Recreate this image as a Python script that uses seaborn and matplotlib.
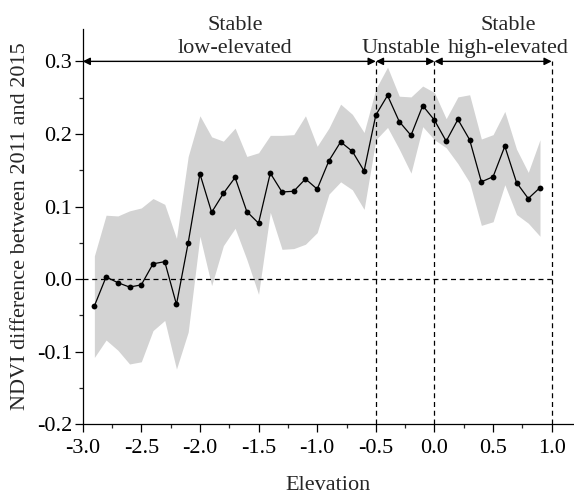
import matplotlib
matplotlib.use("Agg")
import matplotlib.pyplot as plt
import pandas as pd
import seaborn as sns
from matplotlib.ticker import MultipleLocator, FormatStrFormatter

# Elevation bins (standardised elevation) and NDVI change statistics per bin
elevation = [-2.9, -2.8, -2.7, -2.6, -2.5, -2.4, -2.3, -2.2, -2.1, -2.0,
             -1.9, -1.8, -1.7, -1.6, -1.5, -1.4, -1.3, -1.2, -1.1, -1.0,
             -0.9, -0.8, -0.7, -0.6, -0.5, -0.4, -0.3, -0.2, -0.1, 0.0,
             0.1, 0.2, 0.3, 0.4, 0.5, 0.6, 0.7, 0.8, 0.9]

ndvi_mean = [-0.037, 0.003, -0.005, -0.011, -0.008, 0.021, 0.024, -0.035, 0.050, 0.145,
             0.092, 0.118, 0.140, 0.093, 0.077, 0.146, 0.120, 0.121, 0.138, 0.124,
             0.163, 0.189, 0.176, 0.149, 0.226, 0.253, 0.217, 0.198, 0.239, 0.219,
             0.190, 0.220, 0.192, 0.134, 0.141, 0.183, 0.133, 0.111, 0.126]

ndvi_upper = [0.032, 0.088, 0.087, 0.094, 0.098, 0.111, 0.103, 0.056, 0.169, 0.225,
              0.196, 0.190, 0.208, 0.169, 0.174, 0.198, 0.198, 0.199, 0.225, 0.183,
              0.208, 0.241, 0.227, 0.202, 0.262, 0.292, 0.252, 0.251, 0.266, 0.257,
              0.221, 0.251, 0.254, 0.193, 0.199, 0.231, 0.179, 0.147, 0.192]

ndvi_lower = [-0.108, -0.084, -0.098, -0.117, -0.114, -0.071, -0.057, -0.124, -0.073, 0.059,
              -0.009, 0.046, 0.070, 0.027, -0.021, 0.092, 0.041, 0.042, 0.048, 0.064,
              0.117, 0.134, 0.123, 0.096, 0.192, 0.209, 0.179, 0.146, 0.210, 0.192,
              0.181, 0.159, 0.133, 0.074, 0.079, 0.130, 0.089, 0.077, 0.059]

# Zone boundaries and labels
zone_edges = [-3.0, -0.5, 0.0, 1.0]
zone_labels = ["Stable\nlow-elevated", "Unstable", "Stable\nhigh-elevated"]
zone_label_x = [-1.70, -0.285, 0.63]
arrow_level = 0.3

df = pd.DataFrame({"Elevation": elevation, "NDVI": ndvi_mean,
                   "upper": ndvi_upper, "lower": ndvi_lower})

sns.set_style("ticks")
plt.rcParams["font.family"] = ["Liberation Serif", "DejaVu Serif"]
plt.rcParams["axes.unicode_minus"] = False
plt.rcParams["font.size"] = 16

fig = plt.figure(figsize=(5.74, 4.95), dpi=100)
ax = fig.add_axes([0.144, 0.143, 0.856, 0.799])

ax.fill_between(df["Elevation"], df["lower"], df["upper"],
                color="#d3d3d3", linewidth=0, zorder=1)
sns.lineplot(data=df, x="Elevation", y="NDVI", ax=ax, color="black",
             linewidth=0.9, marker="o", markersize=4.2, markeredgewidth=0,
             zorder=3)

dash = (0, (4, 3))
ax.plot([zone_edges[0], zone_edges[-1]], [0, 0], color="black",
        linewidth=0.9, linestyle=dash, zorder=2)
for xe in zone_edges[1:]:
    ax.plot([xe, xe], [-0.2, arrow_level], color="black",
            linewidth=0.9, linestyle=dash, zorder=2)

for x0, x1 in zip(zone_edges[:-1], zone_edges[1:]):
    ax.annotate("", xy=(x1, arrow_level), xytext=(x0, arrow_level),
                arrowprops=dict(arrowstyle="<|-|>", color="black", lw=1.0,
                                shrinkA=0, shrinkB=0, mutation_scale=11),
                zorder=4)

for label, lx in zip(zone_labels, zone_label_x):
    ax.text(lx, 0.304, label, ha="center", va="bottom", fontsize=16,
            linespacing=1.3)

ax.set_xlim(-3.0, 1.19)
ax.set_ylim(-0.2, 0.345)
ax.xaxis.set_major_locator(MultipleLocator(0.5))
ax.xaxis.set_minor_locator(MultipleLocator(0.25))
ax.yaxis.set_major_locator(MultipleLocator(0.1))
ax.yaxis.set_minor_locator(MultipleLocator(0.05))
ax.xaxis.set_major_formatter(FormatStrFormatter("%.1f"))
ax.yaxis.set_major_formatter(FormatStrFormatter("%.1f"))
ax.tick_params(which="major", direction="out", length=5.5, width=0.9,
               labelsize=16, colors="black")
ax.tick_params(axis="x", which="major", pad=5)
ax.tick_params(axis="y", which="major", pad=2)
ax.tick_params(which="minor", direction="out", length=2.8, width=0.9)

for side in ("top", "right"):
    ax.spines[side].set_visible(False)
for side in ("left", "bottom"):
    ax.spines[side].set_linewidth(0.9)
    ax.spines[side].set_color("black")

ax.set_xlabel("Elevation", fontsize=16, labelpad=13)
ax.set_ylabel("NDVI difference between 2011 and 2015", fontsize=16, labelpad=5)

fig.savefig("out.png", dpi=100)
